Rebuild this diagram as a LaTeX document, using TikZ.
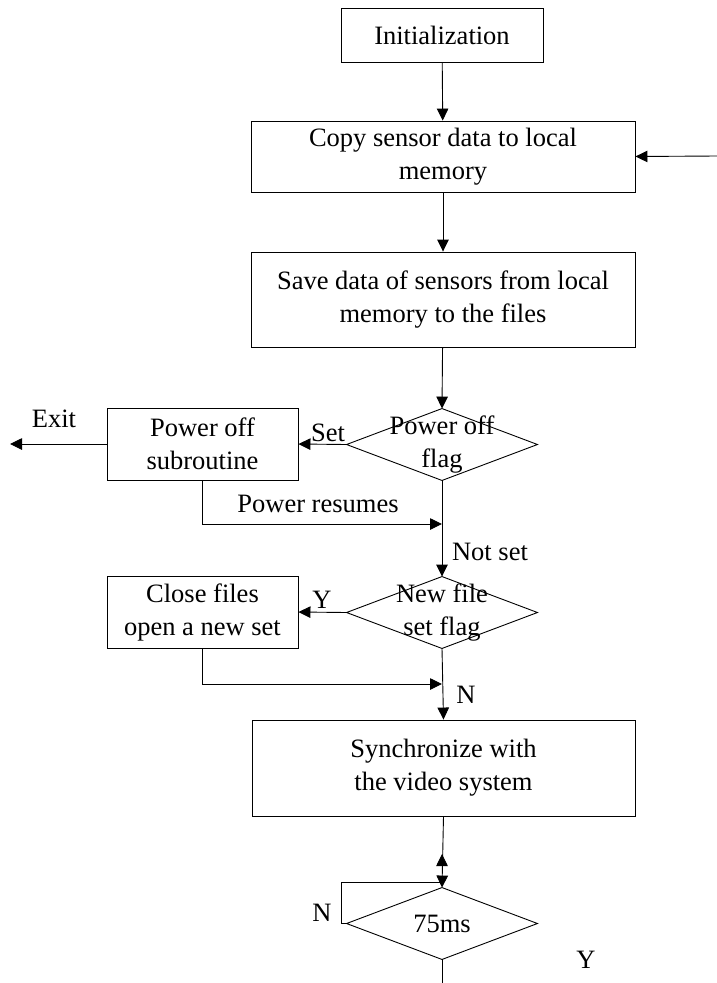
\documentclass[tikz,border=0pt]{standalone}
\usepackage{fontspec}
\setmainfont{Liberation Serif}
\usetikzlibrary{arrows.meta}
\begin{document}
\begin{tikzpicture}[x=1pt,y=-1pt,
  line width=0.9pt,
  every node/.style={font=\fontsize{26.5}{33}\selectfont},
  box/.style={draw, rectangle, inner sep=0pt, align=center},
  cond/.style={rectangle, inner sep=0pt, align=center, minimum width=190pt, minimum height=71pt},
  lbl/.style={inner sep=0pt},
  arr/.style={-{Triangle[length=12pt,width=11.5pt]}}]
\useasboundingbox (0,0) rectangle (717,983);

% process boxes
\node[box, minimum width=202pt, minimum height=54pt] (init) at (442,35) {Initialization};
\node[box, minimum width=384pt, minimum height=71pt] (copy) at (443,156.5) {Copy sensor data to local\\memory};
\node[box, minimum width=384pt, minimum height=95pt] (save) at (443,299.5) {Save data of sensors from local\\memory to the files};
\node[box, minimum width=191pt, minimum height=72pt] (poff) at (202.5,444) {Power off\\subroutine};
\node[box, minimum width=191pt, minimum height=72pt] (close) at (202.5,612) {Close files\\open a new set};
\node[box, minimum width=383pt, minimum height=96pt] (sync) at (443.5,768) {Synchronize with\\the video system};

% decisions
\node[cond] (pflag) at (442,444.5) {Power off\\flag};
\node[cond] (nflag) at (442,612.5) {New file\\set flag};
\node[cond] (wait) at (442,923.5) {75ms};
\foreach \d in {pflag,nflag,wait}
  \draw (\d.north) -- (\d.east) -- (\d.south) -- (\d.west) -- cycle;

% free ends
\coordinate (back) at (717,156);
\coordinate (exit) at (10,444);
\coordinate (resume) at (442,524);
\coordinate (rejoin) at (442,684);
\coordinate (loop) at (341,882);
\coordinate (lptop) at (442,882);
\coordinate (upstart) at (442,868);
\coordinate (uptip) at (442,854);
\coordinate (out) at (442,983);

% main flow
\draw[arr] (init) -- (copy);
\draw[arr] (back) -- (copy.east);
\draw[arr] (copy) -- (save);
\draw[arr] (save) -- (pflag.north);
\draw[arr] (pflag.west) -- (poff.east);
\draw[arr] (poff.west) -- (exit);
\draw[arr] (poff.south) |- (resume);
\draw[arr] (pflag.south) -- (nflag.north);
\draw[arr] (nflag.west) -- (close.east);
\draw[arr] (close.south) |- (rejoin);
\draw[arr] (nflag.south) -- (sync.north);
\draw[arr] (sync.south) -- (wait.north);
\draw[arr] (upstart) -- (uptip);
\draw (wait.west) -| (loop) -- (lptop);
\draw (wait.south) -- (out);

% labels
\node[lbl] (lset) at (328,433) {Set};
\node[lbl] (lexit) at (54,419) {Exit};
\node[lbl] (lres) at (318,504) {Power resumes};
\node[lbl] (lnot) at (490,552) {Not set};
\node[lbl] (ly1) at (322,600) {Y};
\node[lbl] (ln1) at (466,695) {N};
\node[lbl] (ln2) at (322,913) {N};
\node[lbl] (ly2) at (586,960) {Y};
\end{tikzpicture}
\end{document}
